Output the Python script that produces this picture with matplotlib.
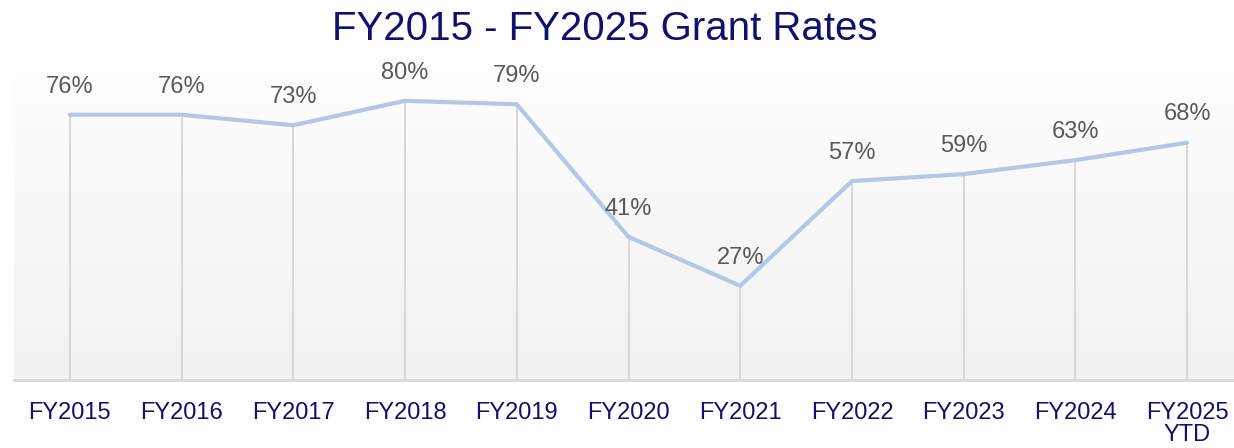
import numpy as np
import matplotlib.pyplot as plt
from matplotlib.colors import LinearSegmentedColormap

years = ['FY2015', 'FY2016', 'FY2017', 'FY2018', 'FY2019', 'FY2020',
         'FY2021', 'FY2022', 'FY2023', 'FY2024', 'FY2025\nYTD']
rates = [76, 76, 73, 80, 79, 41, 27, 57, 59, 63, 68]

navy = '#10106e'
plt.rcParams['font.family'] = ['Liberation Sans', 'DejaVu Sans']

fig = plt.figure(figsize=(12.34, 4.48), dpi=100)
left = 14 / 1234
right = 1243 / 1234
bottom = (448 - 380) / 448
top = 1 - 55 / 448
ax = fig.add_axes([left, bottom, right - left, top - bottom])

x = np.arange(len(years))
ymax = (380 - 55) / 3.49
ax.set_xlim(-0.5, len(years) - 0.5)
ax.set_ylim(0, ymax)

# background gradient, white at top to light gray at bottom
cmap = LinearSegmentedColormap.from_list('bg', ['#f1f1f1', '#ffffff'])
grad = np.linspace(0, 1, 256).reshape(-1, 1)
ax.imshow(grad, cmap=cmap, aspect='auto', origin='lower',
          extent=[-0.5, len(years) - 0.5, 0, ymax], zorder=0)

ax.vlines(x, 0, rates, color='#d9d9d9', lw=1.5, zorder=1)
ax.plot(x, rates, color='#b4c7e7', lw=3, solid_capstyle='round',
        solid_joinstyle='round', zorder=2)

for xi, r in zip(x, rates):
    ax.annotate(f'{r}%', (xi, r), xytext=(0, 16), textcoords='offset points',
                ha='center', va='baseline', fontsize=17, color='#595959', zorder=3)

for s in ['top', 'right', 'left']:
    ax.spines[s].set_visible(False)
ax.spines['bottom'].set_color('#d9d9d9')
ax.spines['bottom'].set_linewidth(2)
ax.set_yticks([])
ax.set_xticks(x)
ax.set_xticklabels(years, fontsize=17, color=navy, linespacing=1.0)
ax.tick_params(axis='x', length=0, pad=16)

fig.text(605 / 1234, 1 - 29 / 448, 'FY2015 - FY2025 Grant Rates', ha='center',
         va='center', fontsize=29, color=navy)

fig.savefig('out.png', dpi=100, facecolor='white')
